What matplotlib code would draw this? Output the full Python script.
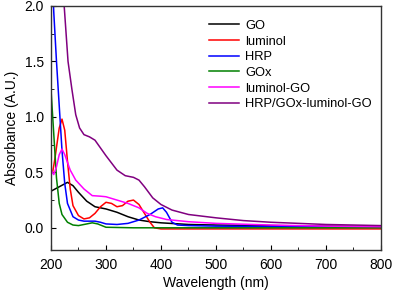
import matplotlib.pyplot as plt
from matplotlib.ticker import MultipleLocator

plt.rcParams['font.family'] = ['Liberation Sans', 'DejaVu Sans']

# absorbance
go_x = [200, 215, 230, 240, 250, 265, 280, 300, 320, 340, 360, 380, 400, 450, 500, 600, 700, 800]
go_y = [0.33, 0.37, 0.41, 0.38, 0.32, 0.24, 0.19, 0.17, 0.14, 0.10, 0.07, 0.055, 0.045, 0.03, 0.025, 0.02, 0.015, 0.01]

lum_x = [203, 207, 211, 215, 220, 225, 230, 235, 240, 250, 260, 270, 280, 290, 300, 310, 320,
         330, 340, 350, 360, 370, 380, 388, 400, 500, 600, 700, 800]
lum_y = [0.5, 0.62, 0.76, 0.9, 0.98, 0.88, 0.6, 0.35, 0.2, 0.11, 0.08, 0.09, 0.13, 0.19, 0.23, 0.22, 0.19,
         0.2, 0.24, 0.25, 0.21, 0.13, 0.05, 0.0, -0.01, -0.01, -0.01, -0.01, -0.01]

hrp_x = [200, 205, 210, 215, 220, 225, 230, 240, 250, 260, 280, 290, 300, 320, 340, 360, 380,
         395, 403, 410, 420, 430, 450, 500, 600, 700, 800]
hrp_y = [2.6, 1.95, 1.5, 1.1, 0.7, 0.4, 0.22, 0.1, 0.07, 0.06, 0.06, 0.05, 0.035, 0.03, 0.04, 0.07, 0.12,
         0.17, 0.18, 0.14, 0.05, 0.025, 0.02, 0.015, 0.012, 0.01, 0.01]

gox_x = [200, 205, 210, 215, 220, 230, 240, 250, 260, 275, 285, 300, 350, 500, 800]
gox_y = [1.25, 0.85, 0.45, 0.22, 0.12, 0.05, 0.025, 0.02, 0.03, 0.045, 0.035, 0.005, 0.0, 0.0, 0.0]

lumgo_x = [200, 205, 210, 215, 220, 225, 235, 245, 260, 275, 290, 300, 320, 340, 360, 375, 390,
           410, 450, 500, 600, 700, 800]
lumgo_y = [0.52, 0.48, 0.55, 0.66, 0.71, 0.66, 0.52, 0.43, 0.35, 0.29, 0.285, 0.28, 0.25, 0.22, 0.18, 0.13, 0.1,
           0.075, 0.055, 0.04, 0.025, 0.015, 0.01]

all_x = [200, 215, 224, 231, 238, 245, 252, 260, 270, 280, 290, 300, 320, 335, 350, 360, 370, 385, 400, 420,
         450, 500, 550, 600, 700, 800]
all_y = [3.0, 2.3, 2.0, 1.5, 1.25, 1.02, 0.9, 0.84, 0.82, 0.79, 0.72, 0.65, 0.52, 0.47, 0.455, 0.43, 0.37, 0.27, 0.21, 0.16,
         0.12, 0.09, 0.065, 0.05, 0.03, 0.02]

series = [
    ("GO", go_x, go_y, "black"),
    ("luminol", lum_x, lum_y, "red"),
    ("HRP", hrp_x, hrp_y, "blue"),
    ("GOx", gox_x, gox_y, "green"),
    ("luminol-GO", lumgo_x, lumgo_y, "magenta"),
    ("HRP/GOx-luminol-GO", all_x, all_y, "purple"),
]

fig = plt.figure(figsize=(3.94, 2.94), dpi=100)
ax = fig.add_axes([0.1294, 0.1497, 0.8376, 0.8299])

for name, xs, ys, col in series:
    ax.plot(xs, ys, color=col, lw=1.1, label=name)

ax.set_xlim(200, 800)
ax.set_ylim(-0.2, 2.0)
ax.xaxis.set_major_locator(MultipleLocator(100))
ax.xaxis.set_minor_locator(MultipleLocator(50))
ax.yaxis.set_major_locator(MultipleLocator(0.5))
ax.yaxis.set_minor_locator(MultipleLocator(0.25))
ax.tick_params(which='both', direction='in', labelsize=10, top=False, right=False)
ax.tick_params(which='major', length=3.5)
ax.tick_params(which='minor', length=2)
ax.tick_params(axis='x', pad=6)
ax.tick_params(axis='y', pad=5)
for s in ax.spines.values():
    s.set_linewidth(1.0)
    s.set_color('#333333')

ax.set_xlabel("Wavelength (nm)", fontsize=10, labelpad=3)
ax.set_ylabel("Absorbance (A.U.)", fontsize=10, labelpad=4)

ax.legend(loc='upper right', bbox_to_anchor=(1.0, 0.98), frameon=False, fontsize=9.3,
          handlelength=2.3, handletextpad=0.5, labelspacing=0.28, borderaxespad=0.3)

fig.savefig("out.png", dpi=100)
